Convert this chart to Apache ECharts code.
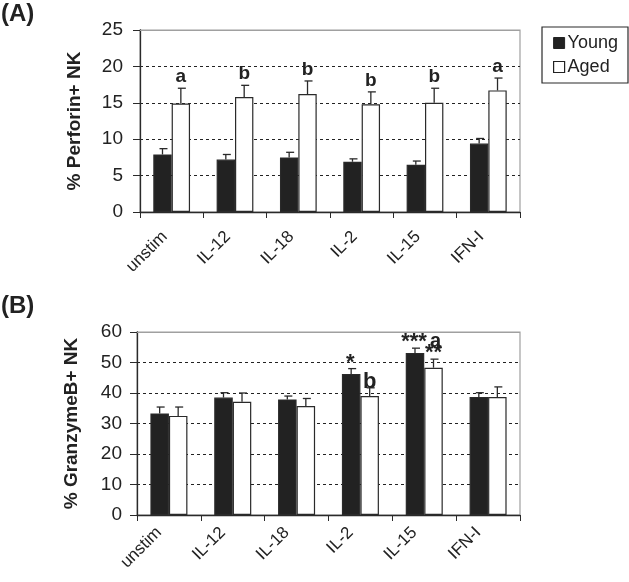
<!DOCTYPE html>
<html><head><meta charset="utf-8">
<script src="https://cdn.jsdelivr.net/npm/echarts@6/dist/echarts.min.js"></script>
<style>html,body{margin:0;padding:0;background:#fff}#c{width:629px;height:582px}</style>
</head><body><div id="c"></div>
<script>
const categories = ['unstim', 'IL-12', 'IL-18', 'IL-2', 'IL-15', 'IFN-I'];
// Panel A: % Perforin+ NK
const perfYoung = [7.9, 7.2, 7.5, 6.9, 6.5, 9.4];
const perfYoungErr = [8.7, 7.9, 8.2, 7.3, 7.0, 10.1];
const perfAged = [14.9, 15.8, 16.2, 14.8, 15.0, 16.7];
const perfAgedErr = [17.0, 17.4, 18.0, 16.5, 17.0, 18.4];
const perfAgedMarks = ['a', 'b', 'b', 'b', 'b', 'a'];
const perfTicks = [0, 5, 10, 15, 20, 25];
// Panel B: % GranzymeB+ NK
const granYoung = [33.3, 38.5, 37.9, 46.2, 53.1, 38.7];
const granYoungErr = [35.4, 40.1, 39.0, 48.0, 54.7, 40.1];
const granAged = [32.5, 37.1, 35.7, 39.0, 48.3, 38.7];
const granAgedErr = [35.4, 40.0, 38.2, 41.7, 51.1, 42.0];
const granYoungMarks = ['', '', '', '*', '***', ''];
const granAgedMarks = ['', '', '', 'b', '**', ''];
const granAgedUpperMarks = ['', '', '', '', 'a', ''];
const granTicks = [0, 10, 20, 30, 40, 50, 60];

const FONT = 'Liberation Sans, Arial, sans-serif';
const BAR_W = 0.29;
const chart = echarts.init(document.getElementById('c'));

function errSeries(gi, vals, errs, sign) {
  return {
    type: 'custom', xAxisIndex: gi, yAxisIndex: gi, z: 5,
    data: vals.map((v, i) => [i, v, errs[i]]),
    renderItem: function (params, api) {
      const band = api.size([1, 0])[0];
      const off = sign * band * BAR_W / 2;
      const b = api.coord([api.value(0), api.value(1)]);
      const t = api.coord([api.value(0), api.value(2)]);
      const x = b[0] + off;
      const st = {stroke: '#2a2a2a', lineWidth: 1.3};
      return {type: 'group', children: [
        {type: 'line', shape: {x1: x, y1: b[1], x2: x, y2: t[1]}, style: st},
        {type: 'line', shape: {x1: x - 3, y1: t[1], x2: x + 5, y2: t[1]}, style: st}
      ]};
    }
  };
}
function markSeries(gi, errs, marks, sign, fontSize, lift, dx) {
  return {
    type: 'custom', xAxisIndex: gi, yAxisIndex: gi, z: 6,
    data: errs.map((e, i) => [i, e]),
    renderItem: function (params, api) {
      const txt = marks[params.dataIndex];
      if (!txt) return null;
      const band = api.size([1, 0])[0];
      const off = sign * band * BAR_W / 2 + (dx || 0);
      const t = api.coord([api.value(0), api.value(1)]);
      return {type: 'text', x: t[0] + off, y: t[1] - lift, style: {
        text: txt, fill: '#222', font: 'bold ' + fontSize + 'px ' + FONT,
        align: 'center', verticalAlign: 'bottom'
      }};
    }
  };
}
function barSeries(name, gi, vals, black) {
  return {
    name: name, type: 'bar', xAxisIndex: gi, yAxisIndex: gi,
    data: vals, barWidth: (BAR_W * 100) + '%', barGap: '0%',
    itemStyle: {color: black ? '#222' : '#fff', borderColor: '#2a2a2a', borderWidth: 1.2}
  };
}
function topLine(gi, v) {
  return {
    type: 'line', xAxisIndex: gi, yAxisIndex: gi, data: [], silent: true,
    markLine: {symbol: 'none', silent: true, z: 4, label: {show: false},
      lineStyle: {color: '#a0a0a0', type: 'solid', width: 1.2},
      data: [{yAxis: v}]}
  };
}
function yAxis(gi, ticks, name, margin) {
  return {
    type: 'value', gridIndex: gi, min: ticks[0], max: ticks[ticks.length - 1],
    interval: ticks[1] - ticks[0],
    name: name, nameLocation: 'middle', nameGap: 56,
    nameTextStyle: {fontFamily: FONT, fontWeight: 'bold', fontSize: 19, color: '#222'},
    axisLine: {show: true, lineStyle: {color: '#2a2a2a', width: 1.3}},
    axisTick: {show: true, length: 7, lineStyle: {color: '#2a2a2a'}},
    axisLabel: {fontFamily: FONT, fontSize: 19, color: '#222', margin: margin},
    splitLine: {show: true, lineStyle: {color: '#222', type: [3, 3], width: 1}}
  };
}
function xAxis(gi, margin, pad) {
  return {
    type: 'category', gridIndex: gi, data: categories, boundaryGap: true,
    axisLine: {lineStyle: {color: '#2a2a2a', width: 1.3}},
    axisTick: {show: true, length: 6, alignWithLabel: false, lineStyle: {color: '#2a2a2a'}},
    axisLabel: {fontFamily: FONT, fontSize: 17, color: '#222', rotate: 45, margin: margin,
      padding: [0, pad, 0, 0], interval: 0}
  };
}

chart.setOption({
  animation: false,
  backgroundColor: '#fff',
  title: [
    {text: '(A)', left: 1, top: 2, padding: 0, textStyle: {fontFamily: FONT, fontWeight: 'bold', fontSize: 24, color: '#222'}},
    {text: '(B)', left: 1, top: 294, padding: 0, textStyle: {fontFamily: FONT, fontWeight: 'bold', fontSize: 24, color: '#222'}}
  ],
  legend: {
    orient: 'vertical', right: 1, top: 27, width: 87,
    backgroundColor: '#fff', borderColor: '#2a2a2a', borderWidth: 1.2,
    padding: [7, 10, 7, 11], itemGap: 6, itemWidth: 11, itemHeight: 11,
    textStyle: {fontFamily: FONT, fontSize: 18, color: '#222', padding: [0, 0, 0, -2]},
    data: [
      {name: 'Young', icon: 'rect', itemStyle: {color: '#222', borderColor: '#222', borderWidth: 1}},
      {name: 'Aged', icon: 'rect', itemStyle: {color: '#fff', borderColor: '#222', borderWidth: 1.2}}
    ]
  },
  grid: [
    {left: 140, right: 109, top: 30, height: 182, show: true, borderColor: '#a0a0a0', borderWidth: 1.2},
    {left: 137, right: 109, top: 332, height: 183, show: true, borderColor: '#a0a0a0', borderWidth: 1.2}
  ],
  xAxis: [xAxis(0, 15, 10), xAxis(1, 5, 14)],
  yAxis: [yAxis(0, perfTicks, '% Perforin+ NK', 17), yAxis(1, granTicks, '% GranzymeB+ NK', 15)],
  series: [
    barSeries('Young', 0, perfYoung, true),
    barSeries('Aged', 0, perfAged, false),
    errSeries(0, perfYoung, perfYoungErr, -1),
    errSeries(0, perfAged, perfAgedErr, 1),
    markSeries(0, perfAgedErr, perfAgedMarks, 1, 19, 2),
    topLine(0, perfTicks[perfTicks.length - 1]),
    barSeries('Young', 1, granYoung, true),
    barSeries('Aged', 1, granAged, false),
    errSeries(1, granYoung, granYoungErr, -1),
    errSeries(1, granAged, granAgedErr, 1),
    markSeries(1, granYoungErr, granYoungMarks, -1, 22, -5, -1),
    markSeries(1, granAgedErr, granAgedMarks, 1, 22, -5),
    markSeries(1, granAgedErr, granAgedUpperMarks, 1, 20, 8, 2),
    topLine(1, granTicks[granTicks.length - 1])
  ]
});
</script>
</body></html>
